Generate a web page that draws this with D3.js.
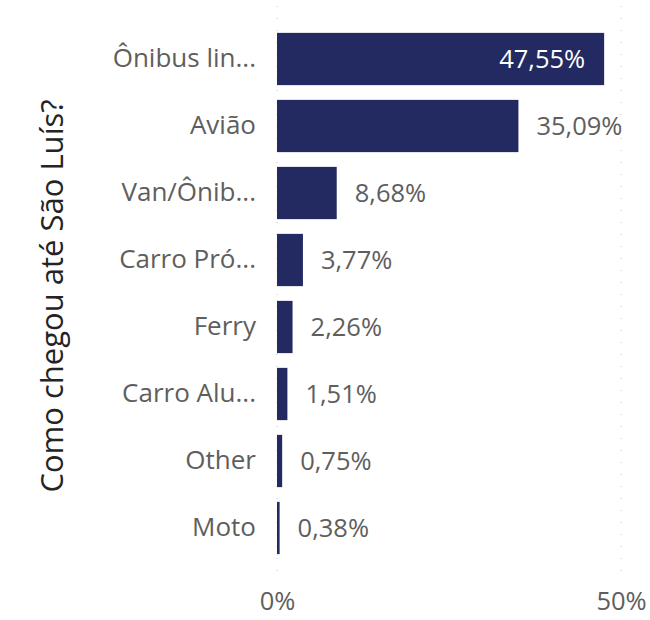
<!DOCTYPE html>
<html>
<head>
<meta charset="utf-8">
<script src="https://cdn.jsdelivr.net/npm/d3@7"></script>
<style>
  body { margin: 0; background: #fff; }
  svg { font-family: "Segoe UI", "Open Sans", "Noto Sans", sans-serif; }
</style>
</head>
<body>
<svg></svg>
<script>
// data
var categories = ["Ônibus lin...", "Avião", "Van/Ônib...", "Carro Pró...", "Ferry", "Carro Alu...", "Other", "Moto"]
var values = [47.55, 35.09, 8.68, 3.77, 2.26, 1.51, 0.75, 0.38]
var ticks = [0, 50]
var axisTitle = "Como chegou até São Luís?"

var width = 650, height = 620
var barColor = "#232a62"
var fontStack = "\"Segoe UI\", \"Open Sans\", \"Noto Sans\", sans-serif"

var svg = d3.select("svg")
  .attr("width", width)
  .attr("height", height)

var x = d3.scaleLinear()
  .domain([0, 50])
  .range([277, 621])

var y = d3.scaleBand()
  .domain(categories)
  .range([25.5, 561.5])
  .paddingInner(0.22)
  .paddingOuter(0.11)

// dotted gridlines
svg.append("g")
  .selectAll("line")
  .data(ticks)
  .join("line")
  .attr("x1", d => x(d))
  .attr("x2", d => x(d))
  .attr("y1", 6)
  .attr("y2", 582)
  .attr("stroke", "#c8c6c4")
  .attr("stroke-width", 1)
  .attr("stroke-dasharray", "1,11")

// bars
svg.append("g")
  .selectAll("rect")
  .data(values)
  .join("rect")
  .attr("x", x(0))
  .attr("y", (d, i) => y(categories[i]))
  .attr("width", d => x(d) - x(0))
  .attr("height", y.bandwidth())
  .attr("fill", barColor)

// data labels
var fmt = d => d.toFixed(2).replace(".", ",") + "%"
svg.append("g")
  .selectAll("text")
  .data(values)
  .join("text")
  .attr("x", (d, i) => i == 0 ? x(d) - 19 : x(d) + 18)
  .attr("y", (d, i) => y(categories[i]) + y.bandwidth() / 2)
  .attr("dy", "0.35em")
  .attr("text-anchor", (d, i) => i == 0 ? "end" : "start")
  .attr("fill", (d, i) => i == 0 ? "#ffffff" : "#605e5c")
  .style("font-size", "25.5px")
  .text(d => fmt(d))

// category labels
var yAxis = d3.axisLeft(y).tickSize(0).tickPadding(0)
var gy = svg.append("g")
  .attr("transform", "translate(256,0)")
  .call(yAxis)
gy.select(".domain").remove()
gy.selectAll("text")
  .attr("fill", "#605e5c")
  .style("font-size", "26px")
  .style("font-family", fontStack)

// x tick labels
var xAxis = d3.axisBottom(x).tickValues(ticks).tickSize(0).tickPadding(0).tickFormat(d => d + "%")
var gx = svg.append("g")
  .attr("transform", "translate(0,592)")
  .call(xAxis)
gx.select(".domain").remove()
gx.selectAll("text")
  .attr("fill", "#605e5c")
  .style("font-size", "25.5px")
  .style("font-family", fontStack)

// axis title
svg.append("text")
  .attr("transform", "translate(52,296) rotate(-90)")
  .attr("dy", "0.35em")
  .attr("text-anchor", "middle")
  .attr("fill", "#252423")
  .style("font-size", "31px")
  .text(axisTitle)
</script>
</body>
</html>
